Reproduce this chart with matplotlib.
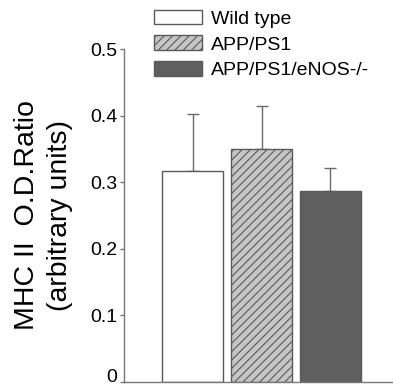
import matplotlib
matplotlib.use('Agg')
import matplotlib.pyplot as plt

groups = ['Wild type', 'APP/PS1', 'APP/PS1/eNOS-/-']
means = [0.317, 0.350, 0.287]
errors = [0.086, 0.064, 0.035]
y_ticks = [0, 0.1, 0.2, 0.3, 0.4, 0.5]
y_tick_labels = ['0', '0.1', '0.2', '0.3', '0.4', '0.5']

plt.rcParams['font.family'] = ['Liberation Sans', 'DejaVu Sans']
plt.rcParams['hatch.color'] = '#555555'
plt.rcParams['hatch.linewidth'] = 0.8

fig = plt.figure(figsize=(3.93, 3.87), dpi=100)
ax = fig.add_axes([124 / 393, 5 / 387, 269 / 393, 333 / 387])

faces = ['white', '#c6c6c6', '#5f5f5f']
hatches = ['', '////', '']
edge = '#5a5a5a'
for i in range(len(groups)):
    ax.bar(i, means[i], width=0.87, color=faces[i], edgecolor=edge,
           linewidth=1.0, hatch=hatches[i], label=groups[i], zorder=2)
    ax.errorbar(i, means[i], yerr=[[0], [errors[i]]], fmt='none',
                ecolor='#6a6a6a', elinewidth=1.0, capsize=4.3, capthick=1.0,
                zorder=1)

ax.set_xlim(-0.993, 2.906)
ax.set_ylim(0, 0.5)
ax.set_yticks(y_ticks, y_tick_labels, fontsize=14)
ticks = ax.yaxis.get_major_ticks()
ticks[0].label1.set_verticalalignment('baseline')
for t in ticks[1:]:
    t.label1.set_verticalalignment('center_baseline')
ax.set_xticks([])
for side in ['top', 'right']:
    ax.spines[side].set_visible(False)
for side in ['left', 'bottom']:
    ax.spines[side].set_color('#777777')
    ax.spines[side].set_linewidth(1.0)
ax.tick_params(axis='y', direction='out', length=3, width=1.0,
               color='#777777', pad=2)
ax.set_ylabel('MHC II  O.D.Ratio\n(arbitrary units)', fontsize=20.5,
              linespacing=1.35, labelpad=12)

ax.legend(loc='upper left', bbox_to_anchor=(141 / 393, 1.0 + 3 / 387),
          bbox_transform=fig.transFigure, frameon=False, fontsize=14,
          handlelength=2.5, handleheight=0.78, labelspacing=0.4,
          handletextpad=0.45, borderaxespad=0.25)

fig.savefig('out.png', dpi=100)
